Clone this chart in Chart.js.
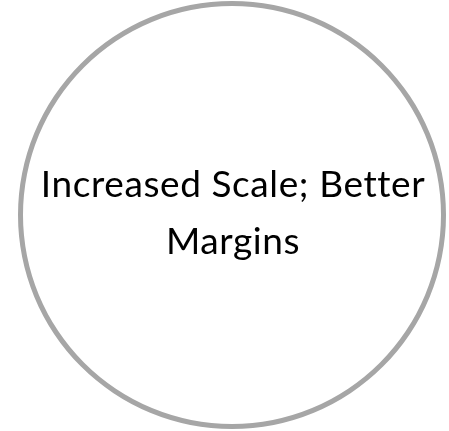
<!DOCTYPE html>
<html>
<head>
<meta charset="utf-8">
<script src="https://cdn.jsdelivr.net/npm/chart.js@4"></script>
<style>
html,body{margin:0;padding:0;background:#fff;}
#wrap{width:449px;height:431px;position:relative;}
</style>
</head>
<body>
<div id="wrap"><canvas id="c" width="449" height="431"></canvas></div>
<script>
const categories = ["Increased Scale; Better Margins"];
const values = [1];
const textLines = ["Increased Scale; Better", "Margins"];

const centerText = {
  id: 'centerText',
  afterDraw(chart) {
    const ctx = chart.ctx;
    const arc = chart.getDatasetMeta(0).data[0];
    ctx.save();
    ctx.fillStyle = '#000';
    ctx.textAlign = 'center';
    ctx.textBaseline = 'alphabetic';
    ctx.font = '400 37px Lato';
    ctx.letterSpacing = '0.6px';
    const cx = arc.x + 1;
    const base = arc.y - 18;
    textLines.forEach((t, i) => ctx.fillText(t, cx, base + i * 57));
    ctx.restore();
  }
};

new Chart(document.getElementById('c'), {
  type: 'doughnut',
  data: {
    labels: categories,
    datasets: [{
      data: values,
      backgroundColor: '#a6a6a6',
      borderWidth: 0
    }]
  },
  options: {
    responsive: false,
    animation: false,
    cutout: 209,
    layout: { padding: { left: 18, right: 3, top: 1, bottom: 2 } },
    plugins: { legend: { display: false }, tooltip: { enabled: false } }
  },
  plugins: [centerText]
});
</script>
</body>
</html>
